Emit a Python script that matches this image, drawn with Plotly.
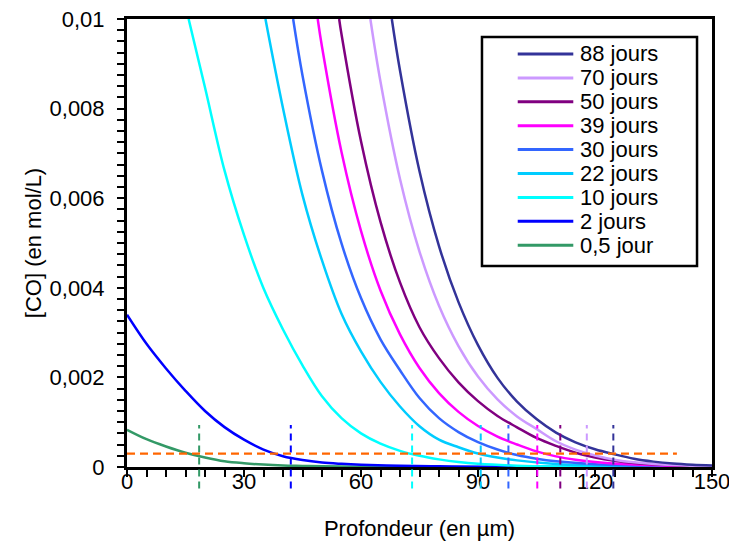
import plotly.graph_objects as go

# ---- data (depth in µm, [CO] in mol/L) ----
labels = ["0,5 jour", "2 jours", "10 jours", "22 jours", "30 jours",
          "39 jours", "50 jours", "70 jours", "88 jours"]
colors = ["#339966", "#0000FF", "#00FFFF", "#00CCFF", "#3366FF",
          "#FF00FF", "#800080", "#CC99FF", "#333399"]

x_05 = [0, 5, 10, 15, 20, 25, 30, 35, 40, 45, 50, 60, 80, 150]
y_05 = [0.00083, 0.00062, 0.000458, 0.000319, 0.000212, 0.000128, 0.000083, 0.000054,
        0.000035, 0.000025, 0.000015, 0.000006, 0.0, 0.0]

x_2 = [0, 5, 10, 15, 20, 25, 30, 35, 40, 45, 50, 55, 60, 70, 80, 90, 110, 150]
y_2 = [0.0034, 0.00275, 0.0022, 0.0017, 0.00125, 0.00089, 0.00061, 0.00039, 0.00024,
       0.000154, 0.0001, 0.000071, 0.000051, 0.000027, 0.000014, 0.000005, 0.0, 0.0]

x_10 = [15.8, 20, 25, 30, 35, 40, 45, 50, 55, 60, 65, 70, 75, 80, 85, 90, 100, 110, 125, 150]
y_10 = [0.01, 0.00847, 0.00662, 0.00518, 0.00399, 0.00307, 0.00227, 0.00158, 0.00109,
        0.00075, 0.00052, 0.00036, 0.00025, 0.00017, 0.00011, 0.00007, 0.00003, 0.000012,
        0.000003, 0.0]

x_22 = [35.5, 40, 45, 50, 55, 60, 65, 70, 75, 80, 85, 90, 95, 100, 110, 120, 135, 150]
y_22 = [0.01, 0.00801, 0.00607, 0.00461, 0.00342, 0.00258, 0.0019, 0.00135, 0.00091,
        0.00061, 0.00044, 0.0003, 0.00021, 0.000148, 0.000067, 0.00003, 0.00001, 0.0]

x_30 = [42.6, 45, 50, 55, 60, 65, 70, 75, 80, 85, 90, 95, 100, 105, 110, 120, 135, 150]
y_30 = [0.01, 0.00874, 0.00661, 0.00499, 0.00377, 0.00285, 0.00216, 0.00154, 0.00109,
        0.00078, 0.000554, 0.00039, 0.000267, 0.000184, 0.000126, 0.00006, 0.000019, 0.0]

x_39 = [48.9, 50, 55, 60, 65, 70, 75, 80, 85, 90, 95, 100, 105, 110, 115, 120, 130, 140, 150]
y_39 = [0.01, 0.00938, 0.00703, 0.00527, 0.00394, 0.00296, 0.00221, 0.00165, 0.00123,
        0.000914, 0.000678, 0.000503, 0.000348, 0.000237, 0.000163, 0.000112, 0.000054,
        0.000026, 0.00001]

x_50 = [54.4, 55, 60, 65, 70, 75, 80, 85, 90, 95, 100, 105, 110, 115, 120, 125, 130, 140, 150]
y_50 = [0.01, 0.00966, 0.00727, 0.00547, 0.00412, 0.00312, 0.00243, 0.00189, 0.00147,
        0.00114, 0.000886, 0.000648, 0.00047, 0.000319, 0.000213, 0.00014, 0.000092,
        0.000039, 0.000017]

x_70 = [62.4, 65, 70, 75, 80, 85, 90, 95, 100, 105, 110, 115, 120, 125, 130, 140, 150]
y_70 = [0.01, 0.0086, 0.00643, 0.00481, 0.0036, 0.0027, 0.00202, 0.00151, 0.00113, 0.00085,
        0.000575, 0.000389, 0.000257, 0.000163, 0.000104, 0.000042, 0.000017]

x_88 = [67.9, 70, 75, 80, 85, 90, 95, 100, 105, 110, 115, 120, 125, 130, 135, 140, 145, 150]
y_88 = [0.01, 0.00885, 0.0066, 0.00493, 0.00368, 0.00272, 0.00199, 0.00146, 0.00107,
        0.000768, 0.000551, 0.000396, 0.000283, 0.000184, 0.00012, 0.0000765, 0.000049,
        0.000031]

series_x = [x_05, x_2, x_10, x_22, x_30, x_39, x_50, x_70, x_88]
series_y = [y_05, y_2, y_10, y_22, y_30, y_39, y_50, y_70, y_88]

# depth markers (vertical dashed lines), one per series
marker_depths = [18.5, 42.0, 73.1, 90.7, 97.8, 105.2, 111.1, 117.9, 124.7]

# threshold (orange dashed line)
threshold_y = 0.0003
threshold_x = [0, 141]

x_ticks = [0, 30, 60, 90, 120, 150]
y_ticks = [0, 0.002, 0.004, 0.006, 0.008, 0.01]
y_ticktext = ["0", "0,002", "0,004", "0,006", "0,008", "0,01"]

FONT = "Liberation Sans, Arial, sans-serif"

fig = go.Figure()
for xs, ys, name, col in zip(series_x, series_y, labels, colors):
    fig.add_trace(go.Scatter(x=xs, y=ys, mode="lines", name=name, showlegend=False,
                             line=dict(color=col, width=2.5, shape="spline", smoothing=1.0)))

shapes = []
for xd, col in zip(marker_depths, colors):
    shapes.append(dict(type="line", xref="x", yref="paper", x0=xd, x1=xd,
                       y0=-0.048, y1=0.094,
                       line=dict(color=col, width=2, dash="7px,5px")))
shapes.append(dict(type="line", xref="x", yref="y", x0=threshold_x[0], x1=threshold_x[1],
                   y0=threshold_y, y1=threshold_y,
                   line=dict(color="#FF6600", width=2.2, dash="8px,5px")))

# legend box drawn in paper coordinates (entries listed top to bottom: 88 jours ... 0,5 jour)
shapes.append(dict(type="rect", xref="paper", yref="paper", x0=0.6068, x1=0.9744,
                   y0=0.4487, y1=0.9598, line=dict(color="black", width=2.5),
                   fillcolor="white", layer="above"))
annotations = []
row_top, row_step = 0.9219, 0.05335
for i, (name, col) in enumerate(zip(labels[::-1], colors[::-1])):
    yy = row_top - row_step * i
    shapes.append(dict(type="line", xref="paper", yref="paper", x0=0.6679, x1=0.7629,
                       y0=yy, y1=yy, line=dict(color=col, width=3), layer="above"))
    annotations.append(dict(text=name, xref="paper", yref="paper", x=0.7715, y=yy,
                            xanchor="left", yanchor="middle", showarrow=False,
                            font=dict(family=FONT, size=22, color="black")))

# page body has an 8px margin: figure is sized to fit inside the 737x554 window
fig.update_layout(
    width=721, height=538,
    margin=dict(l=119, r=17, t=11, b=79),
    paper_bgcolor="white", plot_bgcolor="white",
    font=dict(family=FONT, size=22, color="black"),
    separators=", ",
    shapes=shapes,
    annotations=annotations,
    showlegend=False,
)

fig.update_xaxes(range=[0, 150], tickvals=x_ticks, ticktext=[str(v) for v in x_ticks],
                 showline=True, linecolor="black", linewidth=3, mirror=True,
                 ticks="outside", ticklen=7, tickwidth=2, tickcolor="black",
                 showgrid=False, zeroline=False, automargin=False,
                 ticklabelstandoff=-14, ticklabeloverflow="allow",
                 minor=dict(dtick=5, ticks="outside", ticklen=7, tickwidth=2, tickcolor="black"),
                 title=dict(text="Profondeur (en µm)", font=dict(size=22), standoff=28),
                 tickfont=dict(size=22))
fig.update_yaxes(range=[0, 0.01], tickvals=y_ticks, ticktext=y_ticktext,
                 showline=True, linecolor="black", linewidth=3, mirror=True,
                 ticks="outside", ticklen=7, tickwidth=2, tickcolor="black",
                 showgrid=False, zeroline=False, automargin=False,
                 ticklabelstandoff=8, ticklabeloverflow="allow",
                 minor=dict(dtick=0.00025, ticks="outside", ticklen=7, tickwidth=2, tickcolor="black"),
                 title=dict(text="[CO] (en mol/L)", font=dict(size=22), standoff=2),
                 tickfont=dict(size=22))

fig.write_html("out.html")
